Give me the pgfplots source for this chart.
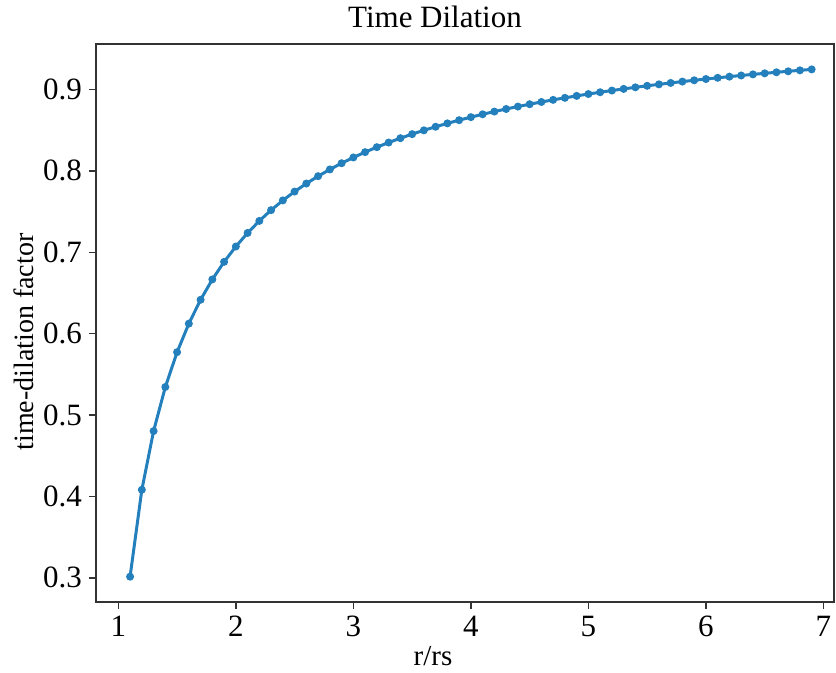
\documentclass[border=0pt]{standalone}
\usepackage{fontspec}
\setmainfont{Liberation Serif}
\usepackage{pgfplots}
\pgfplotsset{compat=1.18}
\definecolor{mplblue}{HTML}{2480BC}

\begin{document}
\begin{tikzpicture}
\begin{axis}[
    scale only axis,
    width=369pt, height=279pt,
    xmin=0.81, xmax=7.09,
    ymin=0.2704, ymax=0.9559,
    xtick={1,2,3,4,5,6,7},
    ytick={0.3,0.4,0.5,0.6,0.7,0.8,0.9},
    tick align=outside,
    tick pos=left,
    major tick length=3.5pt,
    axis line style={black!80, line width=0.7pt},
    every tick/.style={black!80, line width=0.7pt},
    /pgf/number format/assume math mode=true,
    /pgf/number format/fixed,
    /pgf/number format/precision=1,
    yticklabel style={/pgf/number format/fixed zerofill},
    ticklabel style={font=\fontsize{15.5}{18}\selectfont},
    clip=false,
]
% time-dilation factor, r/rs = 1.1 ... 6.9
\addplot[mplblue, line width=1.5pt, mark=*, mark size=1.2pt,
         mark options={solid, fill=mplblue, draw=mplblue}]
coordinates {
(1.1,0.30151) (1.2,0.40825) (1.3,0.48038) (1.4,0.53452) (1.5,0.57735)
(1.6,0.61237) (1.7,0.64169) (1.8,0.66667) (1.9,0.68825) (2.0,0.70711)
(2.1,0.72375) (2.2,0.73855) (2.3,0.75181) (2.4,0.76376) (2.5,0.77460)
(2.6,0.78446) (2.7,0.79349) (2.8,0.80178) (2.9,0.80943) (3.0,0.81650)
(3.1,0.82306) (3.2,0.82916) (3.3,0.83485) (3.4,0.84017) (3.5,0.84515)
(3.6,0.84984) (3.7,0.85424) (3.8,0.85839) (3.9,0.86232) (4.0,0.86603)
(4.1,0.86954) (4.2,0.87287) (4.3,0.87604) (4.4,0.87905) (4.5,0.88192)
(4.6,0.88465) (4.7,0.88726) (4.8,0.88976) (4.9,0.89214) (5.0,0.89443)
(5.1,0.89662) (5.2,0.89872) (5.3,0.90073) (5.4,0.90267) (5.5,0.90453)
(5.6,0.90633) (5.7,0.90805) (5.8,0.90972) (5.9,0.91132) (6.0,0.91287)
(6.1,0.91437) (6.2,0.91581) (6.3,0.91721) (6.4,0.91856) (6.5,0.91987)
(6.6,0.92114) (6.7,0.92236) (6.8,0.92355) (6.9,0.92470)
};
\end{axis}
% title and axis labels
\node[font=\fontsize{15.5}{18}\selectfont, anchor=base] at (169.5pt,287pt) {Time Dilation};
\node[font=\fontsize{14.5}{17}\selectfont, anchor=base] at (168.5pt,-32pt) {r/rs};
\node[font=\fontsize{14}{17}\selectfont, rotate=90] at (-36pt,130pt) {time-dilation factor};
\pgfresetboundingbox
\useasboundingbox (-48pt,-35.5pt) rectangle (370pt,301pt);
\end{tikzpicture}
\end{document}
